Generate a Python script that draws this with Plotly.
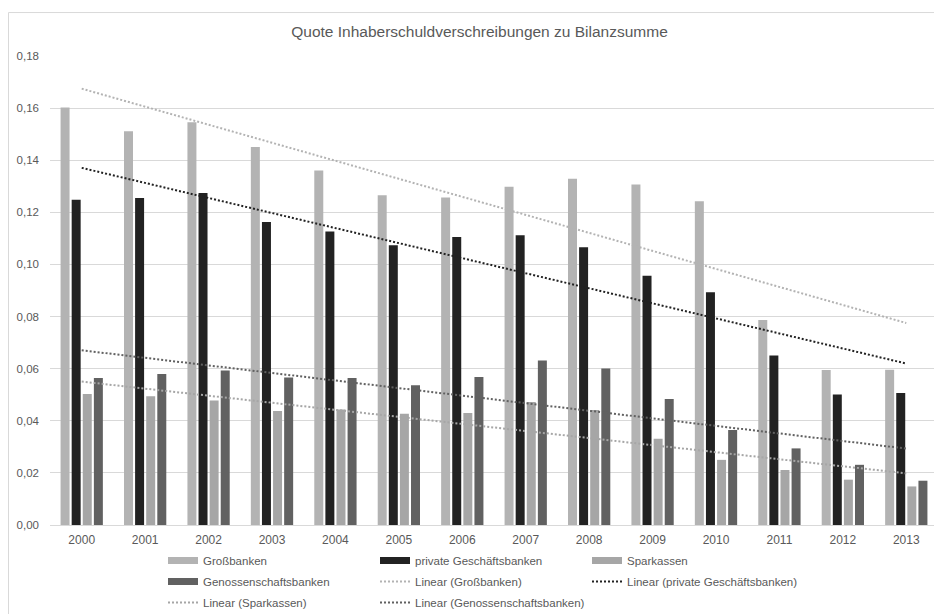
import numpy as np
import plotly.graph_objects as go

years = ["2000", "2001", "2002", "2003", "2004", "2005", "2006",
         "2007", "2008", "2009", "2010", "2011", "2012", "2013"]
grossbanken = [0.1602, 0.1511, 0.1546, 0.1451, 0.1361, 0.1266, 0.1257,
               0.1298, 0.1329, 0.1307, 0.1243, 0.0787, 0.0595, 0.0596]
private_gb = [0.1248, 0.1255, 0.1274, 0.1163, 0.1126, 0.1074, 0.1105,
              0.1112, 0.1066, 0.0957, 0.0893, 0.0651, 0.0501, 0.0507]
sparkassen = [0.0503, 0.0494, 0.0478, 0.0438, 0.0443, 0.0427, 0.0430,
              0.0472, 0.0441, 0.0331, 0.0250, 0.0211, 0.0174, 0.0148]
genossen = [0.0564, 0.0580, 0.0593, 0.0566, 0.0564, 0.0536, 0.0568,
            0.0631, 0.0601, 0.0484, 0.0365, 0.0294, 0.0231, 0.0170]
series_names = ["Großbanken", "private Geschäftsbanken", "Sparkassen", "Genossenschaftsbanken"]
title_text = "Quote Inhaberschuldverschreibungen zu Bilanzsumme"

colors = ["#b3b3b3", "#222222", "#a6a6a6", "#616161"]
series = [grossbanken, private_gb, sparkassen, genossen]
legend_ids = ["legend", "legend2", "legend3", "legend"]
trend_legend_ids = ["legend2", "legend3", "legend", "legend2"]

# the page body adds an 8px offset; figure coordinates below are page coords minus 8
OFF = 8
W, H = 934, 606
ml, mr, mt, mb = 42, 4, 48, 88.5
pw = W - ml - mr
ph = H - mt - mb

fig = go.Figure()
TXT = "#595959"
FONT = "Liberation Sans, Arial, sans-serif"

for name, vals, col in zip(series_names, series, colors):
    fig.add_trace(go.Bar(x=years, y=vals, name=name, marker=dict(color=col, line=dict(width=0)),
                         showlegend=False))

xi = np.arange(1, len(years) + 1)
for name, vals, col in zip(series_names, series, colors):
    k, d = np.polyfit(xi, np.array(vals), 1)
    fig.add_trace(go.Scatter(x=years, y=k * xi + d, mode="lines", name="Linear (" + name + ")",
                             line=dict(color=col, width=2, dash="2px,2px"), showlegend=False,
                             hoverinfo="skip"))

# legend entries (drawn only in the legend)
for i, (name, col) in enumerate(zip(series_names, colors)):
    fig.add_trace(go.Scatter(x=[None], y=[None], mode="lines", name=name,
                             line=dict(color=col, width=7), legend=legend_ids[i],
                             legendgroup="b%d" % i))
for i, (name, col) in enumerate(zip(series_names, colors)):
    fig.add_trace(go.Scatter(x=[None], y=[None], mode="lines", name="Linear (" + name + ")",
                             line=dict(color=col, width=2, dash="2px,2px"), legend=trend_legend_ids[i],
                             legendgroup="t%d" % i))


def px_x(p):
    return (p - OFF - ml) / pw


def px_y(p):
    return (H - mb - (p - OFF)) / ph


leg_top = 546.5
common_leg = dict(orientation="v", yanchor="top", xanchor="left",
                  y=px_y(leg_top),
                  font=dict(family=FONT, size=11.5, color=TXT), bgcolor="rgba(0,0,0,0)",
                  traceorder="grouped", tracegroupgap=2, itemwidth=30)

fig.update_layout(
    width=W, height=H,
    margin=dict(l=ml, r=mr, t=mt, b=mb, pad=0, autoexpand=False),
    paper_bgcolor="white", plot_bgcolor="white",
    font=dict(family=FONT, color=TXT),
    separators=",.",
    title=dict(text=title_text, x=(479.5 - OFF) / W, xanchor="center", xref="container",
               y=1 - (32 - OFF) / H, yanchor="middle", font=dict(family=FONT, size=15.5, color=TXT)),
    barmode="group", bargap=0.30, bargroupgap=0.19,
    xaxis=dict(type="category", showgrid=False, showline=True, linecolor="#d9d9d9", linewidth=1,
               ticks="", tickfont=dict(family=FONT, size=12, color=TXT), zeroline=False,
               ticklabelstandoff=4),
    yaxis=dict(range=[0, 0.18], dtick=0.02, tickformat=".2f", showgrid=True, gridcolor="#d9d9d9",
               gridwidth=1, zeroline=False, showline=False, ticks="",
               tickfont=dict(family=FONT, size=11.5, color=TXT), ticklabelstandoff=10),
    legend=dict(x=px_x(163), **common_leg),
    legend2=dict(x=px_x(375), **common_leg),
    legend3=dict(x=px_x(587), **common_leg),
    shapes=[dict(type="rect", xref="paper", yref="paper",
                 x0=px_x(8.5), x1=px_x(960), y0=px_y(640), y1=px_y(12.5),
                 line=dict(color="#d9d9d9", width=1), fillcolor="rgba(0,0,0,0)", layer="below")],
    showlegend=True,
)

fig.write_html("out.html")
